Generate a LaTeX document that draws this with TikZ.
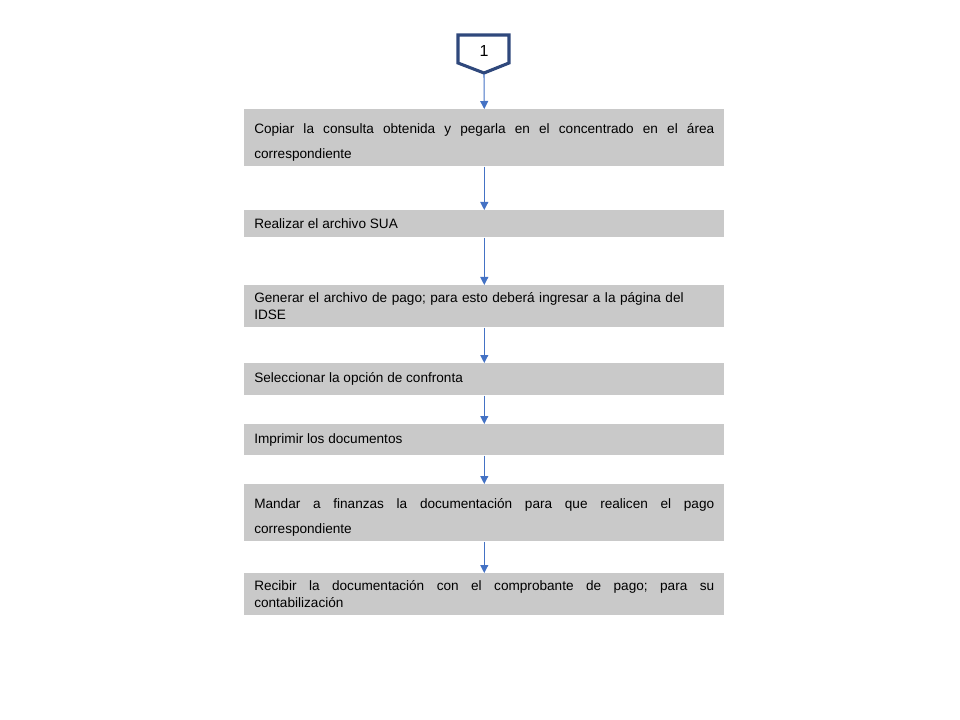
\documentclass[tikz,border=0pt]{standalone}
\usepackage{fontspec}
\setmainfont{Liberation Sans}
\usetikzlibrary{arrows.meta}
\definecolor{boxgray}{RGB}{201,201,201}
\definecolor{arrowblue}{RGB}{68,114,196}
\definecolor{navy}{RGB}{47,72,124}
\newcommand{\toppad}{\rule{0pt}{15pt}}
\tikzset{
  stepbox/.style={fill=boxgray, draw=none, anchor=north west, minimum width=360pt,
    text width=345pt, inner xsep=7.5pt, inner ysep=0pt, align=justify,
    font=\fontsize{10.2}{12.75}\selectfont\frenchspacing},
  widebox/.style={stepbox, font=\fontsize{10.2}{18.75}\selectfont\frenchspacing},
  flow/.style={draw=arrowblue, line width=0.8pt, -{Triangle[width=6pt,length=6pt]}}
}
\begin{document}
\begin{tikzpicture}[x=0.75pt,y=-0.75pt]
\useasboundingbox (0,0) rectangle (960,720);
% off-page connector
\draw[navy, line width=2.3pt, fill=white, line join=miter]
  (458,35) -- (509,35) -- (509,63) -- (484,73) -- (458,63) -- cycle;
\node[font=\fontsize{12}{14}\selectfont] (c1) at (484,51) {1};
\coordinate (ctip) at (484,74);
% boxes
\node[widebox, minimum height=42.75pt] (b1) at (244,109)
  {\toppad Copiar la consulta obtenida y pegarla en el concentrado en el área\linebreak correspondiente};
\node[stepbox, minimum height=20.25pt] (b2) at (244,210)
  {Realizar el archivo SUA};
\node[stepbox, minimum height=31.5pt, align=left] (b3) at (244,285)
  {Generar el archivo de pago; para esto deberá ingresar a la página del\\IDSE};
\node[stepbox, minimum height=24pt] (b4) at (244,363)
  {Seleccionar la opción de confronta};
\node[stepbox, minimum height=23.25pt] (b5) at (244,424)
  {Imprimir los documentos};
\node[widebox, minimum height=42.75pt] (b6) at (244,484)
  {\toppad Mandar a finanzas la documentación para que realicen el pago\linebreak correspondiente};
\node[stepbox, minimum height=31.5pt] (b7) at (244,573)
  {Recibir la documentación con el comprobante de pago; para su\linebreak contabilización};
% connectors
\draw[flow] (ctip) -- (b1.north);
\draw[flow] (b1.south) -- (b2.north);
\draw[flow] (b2.south) -- (b3.north);
\draw[flow] (b3.south) -- (b4.north);
\draw[flow] (b4.south) -- (b5.north);
\draw[flow] (b5.south) -- (b6.north);
\draw[flow] (b6.south) -- (b7.north);
\end{tikzpicture}
\end{document}
